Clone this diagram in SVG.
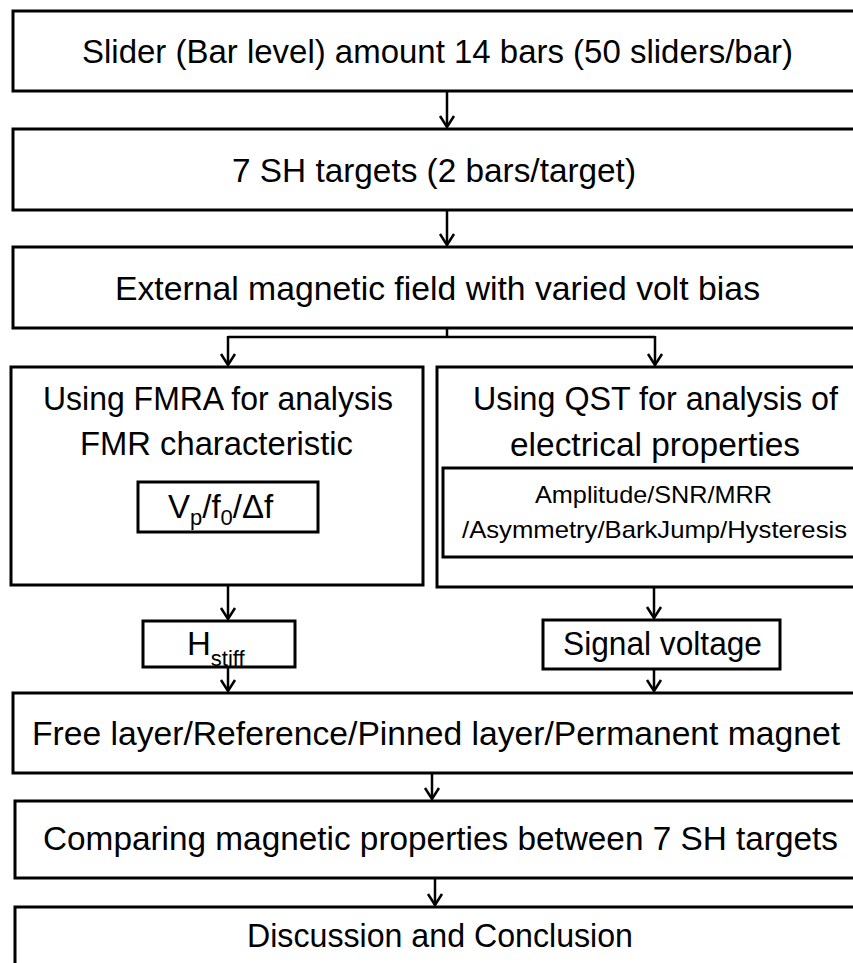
<svg xmlns="http://www.w3.org/2000/svg" width="853" height="963" viewBox="0 0 853 963">
<style>
.box{fill:#fff;stroke:#000;stroke-width:3}
.t{font-family:"Liberation Sans",Arial,sans-serif;fill:#000;font-size:33px}
.s{font-size:24px}
.c{fill:none;stroke:#000;stroke-width:2.5}
</style>
<defs>
<marker id="arr" viewBox="-12 -9 14 18" refX="0" refY="0" markerWidth="14" markerHeight="18" markerUnits="userSpaceOnUse" orient="auto">
<path d="M-11,-7 L0,0 L-11,7" fill="none" stroke="#000" stroke-width="2.5"/>
</marker>
</defs>
<rect width="853" height="963" fill="#fff"/>
<g id="connectors">
<line class="c" x1="447" y1="92" x2="447" y2="127" marker-end="url(#arr)"/>
<line class="c" x1="447" y1="211" x2="447" y2="245" marker-end="url(#arr)"/>
<polyline class="c" points="447,329 447,337"/>
<polyline class="c" points="228,337 655,337"/>
<line class="c" x1="228" y1="336" x2="228" y2="365" marker-end="url(#arr)"/>
<line class="c" x1="655" y1="336" x2="655" y2="365" marker-end="url(#arr)"/>
<line class="c" x1="228" y1="586" x2="228" y2="619" marker-end="url(#arr)"/>
<line class="c" x1="228" y1="668" x2="228" y2="691" marker-end="url(#arr)"/>
<line class="c" x1="654" y1="588" x2="654" y2="618" marker-end="url(#arr)"/>
<line class="c" x1="654" y1="670" x2="654" y2="691" marker-end="url(#arr)"/>
<line class="c" x1="432" y1="774" x2="432" y2="799" marker-end="url(#arr)"/>
<line class="c" x1="435" y1="879" x2="435" y2="905" marker-end="url(#arr)"/>
</g>
<g id="n1">
<rect class="box" x="13" y="11" width="846" height="80"/>
<text class="t" x="82" y="63" textLength="711" lengthAdjust="spacingAndGlyphs">Slider (Bar level) amount 14 bars (50 sliders/bar)</text>
</g>
<g id="n2">
<rect class="box" x="13" y="129" width="846" height="81"/>
<text class="t" x="232" y="182" textLength="404" lengthAdjust="spacingAndGlyphs">7 SH targets (2 bars/target)</text>
</g>
<g id="n3">
<rect class="box" x="13" y="247" width="846" height="81"/>
<text class="t" x="115" y="300" textLength="645" lengthAdjust="spacingAndGlyphs">External magnetic field with varied volt bias</text>
</g>
<g id="n4">
<rect class="box" x="11" y="367" width="412" height="218"/>
<text class="t" x="43" y="410" textLength="350" lengthAdjust="spacingAndGlyphs">Using FMRA for analysis</text>
<text class="t" x="80" y="455" textLength="273" lengthAdjust="spacingAndGlyphs">FMR characteristic</text>
<rect class="box" x="138" y="482" width="180" height="50"/>
<text class="t" x="168" y="518" font-size="33">V<tspan font-size="22" dy="7">p</tspan><tspan dy="-7">/f</tspan><tspan font-size="22" dy="7">0</tspan><tspan dy="-7">/Δf</tspan></text>
</g>
<g id="n5">
<rect class="box" x="437" y="367" width="420" height="220"/>
<text class="t" x="473" y="410" textLength="365" lengthAdjust="spacingAndGlyphs">Using QST for analysis of</text>
<text class="t" x="510" y="456" textLength="290" lengthAdjust="spacingAndGlyphs">electrical properties</text>
<rect class="box" x="443" y="468" width="414" height="89"/>
<text class="t s" x="535" y="503" textLength="237" lengthAdjust="spacingAndGlyphs">Amplitude/SNR/MRR</text>
<text class="t s" x="462" y="538" textLength="385" lengthAdjust="spacingAndGlyphs">/Asymmetry/BarkJump/Hysteresis</text>
</g>
<g id="n6">
<rect class="box" x="143" y="621" width="152" height="46"/>
<text class="t" x="187" y="655" font-size="31">H<tspan font-size="22" dy="11">stiff</tspan></text>
</g>
<g id="n7">
<rect class="box" x="543" y="620" width="237" height="49"/>
<text class="t" x="563" y="655" textLength="199" lengthAdjust="spacingAndGlyphs">Signal voltage</text>
</g>
<g id="n8">
<rect class="box" x="13" y="693" width="846" height="80"/>
<text class="t" x="32" y="745" textLength="808" lengthAdjust="spacingAndGlyphs">Free layer/Reference/Pinned layer/Permanent  magnet</text>
</g>
<g id="n9">
<rect class="box" x="15" y="801" width="844" height="77"/>
<text class="t" x="43" y="850" textLength="795" lengthAdjust="spacingAndGlyphs">Comparing magnetic properties between 7 SH targets</text>
</g>
<g id="n10">
<rect class="box" x="15" y="907" width="844" height="70"/>
<text class="t" x="247" y="947" textLength="386" lengthAdjust="spacingAndGlyphs">Discussion and Conclusion</text>
</g>
</svg>
